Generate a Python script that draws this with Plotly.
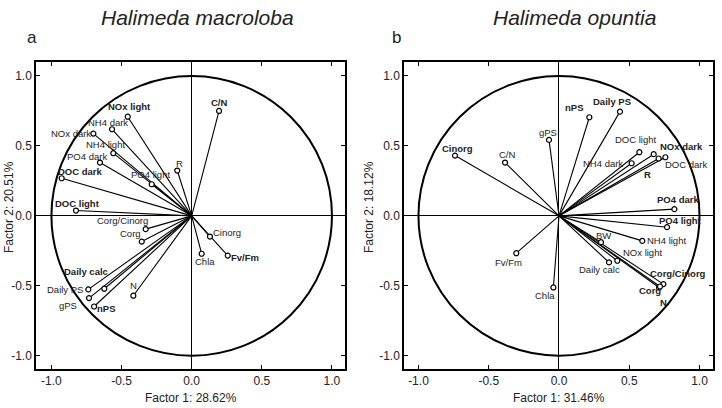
import plotly.graph_objects as go

# ---------------- data ----------------
labels_a = ["NOx light", "NH4 dark", "NOx dark", "NH4 light", "PO4 dark", "DOC dark",
            "PO4 light", "R", "DOC light", "Corg/Cinorg", "Corg", "Daily calc",
            "Daily PS", "gPS", "nPS", "N", "C/N", "Cinorg", "Chla", "Fv/Fm"]
f1_a = [-0.456, -0.568, -0.701, -0.559, -0.654, -0.927,
        -0.285, -0.103, -0.825, -0.328, -0.356, -0.623,
        -0.737, -0.732, -0.696, -0.416, 0.195, 0.130, 0.071, 0.257]
f2_a = [0.709, 0.619, 0.588, 0.448, 0.381, 0.269,
        0.226, 0.324, 0.038, -0.095, -0.184, -0.521,
        -0.526, -0.588, -0.648, -0.571, 0.750, -0.148, -0.271, -0.284]
bold_a = ["NOx light", "DOC dark", "DOC light", "Daily calc", "nPS", "C/N", "Fv/Fm"]

labels_b = ["Cinorg", "C/N", "gPS", "nPS", "Daily PS", "DOC light", "NOx dark", "R",
            "DOC dark", "NH4 dark", "PO4 dark", "PO4 light", "BW", "NH4 light",
            "NOx light", "Daily calc", "Corg/Cinorg", "Corg", "N", "Chla", "Fv/Fm"]
f1_b = [-0.740, -0.384, -0.071, 0.216, 0.434, 0.572, 0.674, 0.709,
        0.757, 0.517, 0.821, 0.769, 0.299, 0.593,
        0.415, 0.356, 0.743, 0.712, 0.719, -0.040, -0.304]
f2_b = [0.431, 0.381, 0.543, 0.705, 0.745, 0.455, 0.441, 0.410,
        0.419, 0.376, 0.048, -0.081, -0.188, -0.179,
        -0.321, -0.333, -0.488, -0.512, -0.505, -0.512, -0.267]
bold_b = ["Cinorg", "nPS", "Daily PS", "NOx dark", "R", "PO4 dark", "PO4 light",
          "Corg/Cinorg", "Corg", "N"]

titles = ["Halimeda macroloba", "Halimeda opuntia"]
panel_letters = ["a", "b"]
xtitles = ["Factor 1: 28.62%", "Factor 1: 31.46%"]
ytitles = ["Factor 2: 20.51%", "Factor 2: 18.12%"]
tick_vals = [-1.0, -0.5, 0.0, 0.5, 1.0]
tick_text = ["-1.0", "-0.5", "0.0", "0.5", "1.0"]

# ---------------- label offsets (screen px: dx right, dy down) ----------------
off_a = {"NOx light": (2, -10), "NH4 dark": (-4, -7), "NOx dark": (-22, 0),
         "NH4 light": (-8, -9), "PO4 dark": (-13, -6), "DOC dark": (19, -7),
         "PO4 light": (-1, -10), "R": (2, -7), "DOC light": (2, -7),
         "Corg/Cinorg": (-23, -9), "Corg": (-11, -8), "Daily calc": (-18, -17),
         "Daily PS": (-23, 0), "gPS": (-21, 7), "nPS": (12, 2), "N": (0, -10),
         "C/N": (0, -8), "Cinorg": (17, -4), "Chla": (3, 8), "Fv/Fm": (17, 2)}
off_b = {"Cinorg": (2, -7), "C/N": (2, -8), "gPS": (-1, -7), "nPS": (-15, -10),
         "Daily PS": (-8, -10), "DOC light": (-3, -13), "NOx dark": (28, -8),
         "R": (-11, 16), "DOC dark": (21, 7), "NH4 dark": (-29, 0),
         "PO4 dark": (4, -10), "PO4 light": (13, -7), "BW": (2, -7),
         "NH4 light": (24, 0), "NOx light": (25, -8), "Daily calc": (-10, 7),
         "Corg/Cinorg": (15, -11), "Corg": (-9, 3), "N": (3, 16),
         "Chla": (-8, 8), "Fv/Fm": (-8, 9)}

FONT = "Liberation Sans, Arial, Helvetica, sans-serif"
TXT = "#222222"
W, H = 722, 408

fig = go.Figure()
annotations = []
shapes = []

panels = [
    (labels_a, f1_a, f2_a, bold_a, off_a, "x", "y"),
    (labels_b, f1_b, f2_b, bold_b, off_b, "x2", "y2"),
]

for labels, xs, ys, bolds, offs, xr, yr in panels:
    lx, ly = [], []
    for xv, yv in zip(xs, ys):
        lx += [0, xv, None]
        ly += [0, yv, None]
    fig.add_trace(go.Scatter(x=lx, y=ly, mode="lines", xaxis=xr, yaxis=yr,
                             line=dict(color="black", width=1.1),
                             hoverinfo="skip", showlegend=False))
    fig.add_trace(go.Scatter(x=xs, y=ys, mode="markers", xaxis=xr, yaxis=yr,
                             marker=dict(symbol="circle", size=5, color="white",
                                         line=dict(color="black", width=1.2)),
                             text=labels, showlegend=False))
    for lab, xv, yv in zip(labels, xs, ys):
        dx, dy = offs[lab]
        t = f"<b>{lab}</b>" if lab in bolds else lab
        annotations.append(dict(x=xv, y=yv, xref=xr, yref=yr, text=t,
                                showarrow=False, xshift=dx, yshift=-dy,
                                xanchor="center", yanchor="middle",
                                font=dict(family=FONT, size=9.5, color=TXT)))
    shapes.append(dict(type="circle", xref=xr, yref=yr, x0=-1, y0=-1, x1=1, y1=1,
                       line=dict(color="black", width=2), layer="above"))

# geometry in px
dom_x = [(36, 345), (404, 713)]
dom_y = (62, 369)

axis_common = dict(
    showgrid=False, zeroline=True, zerolinecolor="black", zerolinewidth=1.2,
    showline=True, linecolor="black", linewidth=1.5, mirror="ticks",
    ticks="inside", ticklen=4, tickwidth=1, tickcolor="black",
    tickvals=tick_vals, ticktext=tick_text,
    tickfont=dict(family=FONT, size=12, color=TXT),
)

fig.update_layout(
    width=W, height=H, margin=dict(l=0, r=0, t=0, b=0),
    paper_bgcolor="white", plot_bgcolor="white",
    xaxis=dict(domain=[dom_x[0][0] / W, dom_x[0][1] / W], range=[-1.11, 1.093],
               anchor="y", **axis_common),
    yaxis=dict(domain=[1 - dom_y[1] / H, 1 - dom_y[0] / H], range=[-1.095, 1.10],
               anchor="x", **axis_common),
    xaxis2=dict(domain=[dom_x[1][0] / W, dom_x[1][1] / W], range=[-1.103, 1.096],
                anchor="y2", **axis_common),
    yaxis2=dict(domain=[1 - dom_y[1] / H, 1 - dom_y[0] / H], range=[-1.095, 1.10],
                anchor="x2", **axis_common),
    shapes=shapes,
)

# titles and axis titles
title_x = [197, 574]
letter_x = [32, 396]
xt_x = [191, 559]
yt_x = [9, 369]


def paper_text(px, py, text, size, angle=0):
    return dict(x=px / W, y=1 - py / H, xref="paper", yref="paper", text=text,
                showarrow=False, xanchor="center", yanchor="middle", textangle=angle,
                font=dict(family=FONT, size=size, color=TXT))


for i in range(2):
    annotations.append(paper_text(title_x[i], 18, f"<i>{titles[i]}</i>", 21))
    annotations.append(paper_text(letter_x[i], 37, panel_letters[i], 17))
    annotations.append(paper_text(xt_x[i], 398, xtitles[i], 12))
    annotations.append(paper_text(yt_x[i], 207, ytitles[i], 12, -90))

fig.update_layout(annotations=annotations)
fig.write_html("out.html")
